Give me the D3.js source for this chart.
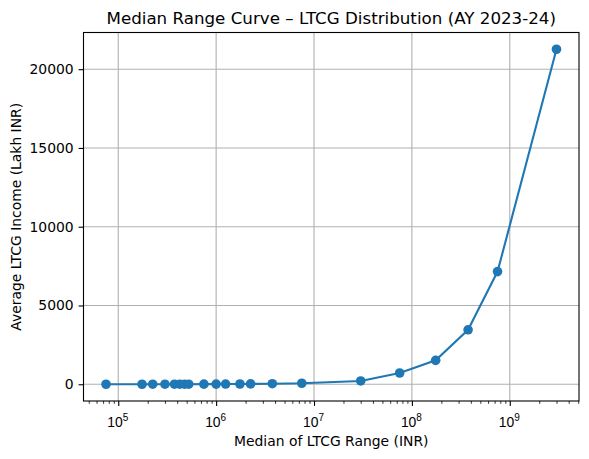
<!DOCTYPE html>
<html>
<head>
<meta charset="utf-8">
<script src="https://cdn.jsdelivr.net/npm/d3@7"></script>
<style>
  body { margin: 0; background: #fff; }
  svg { font-family: "DejaVu Sans", sans-serif; }
</style>
</head>
<body>
<div id="chart"></div>
<script>
// median of each LTCG range (INR)
var medians = [75000, 175000, 225000, 300000, 375000, 425000, 475000, 525000, 750000, 1000000,
  1250000, 1750000, 2250000, 3750000, 7500000, 30000000, 75000000, 175000000, 375000000,
  750000000, 3000000000];
// average LTCG income (lakh INR)
var avgIncome = [0.5, 1.6, 2.1, 2.9, 3.6, 4.1, 4.6, 5.1, 7.3, 9.6, 12.1, 17.2, 22, 36, 65,
  209, 715, 1519, 3456, 7152, 21266];
var xMajor = [1e5, 1e6, 1e7, 1e8, 1e9];
var yTicks = [0, 5000, 10000, 15000, 20000];

var W = 589, H = 459;
// note: "top" is a reserved window property, so use plotTop etc.
var plotLeft = 83.5, plotRight = 579, plotTop = 32.5, plotBottom = 401;
var blue = "#1f77b4";

var data = medians.map(function (m, i) { return { x: m, y: avgIncome[i] }; });

var svg = d3.select("#chart").append("svg").attr("width", W).attr("height", H);

// domains with 5% margins like matplotlib
var lx = d3.extent(medians, function (d) { return Math.log10(d); });
var pad = (lx[1] - lx[0]) * 0.05;
var x = d3.scaleLog()
  .domain([Math.pow(10, lx[0] - pad), Math.pow(10, lx[1] + pad)])
  .range([plotLeft, plotRight]);

var ey = d3.extent(avgIncome);
var padY = (ey[1] - ey[0]) * 0.05;
var y = d3.scaleLinear().domain([ey[0] - padY, ey[1] + padY]).range([plotBottom, plotTop]);

// grid
var grid = svg.append("g");
grid.selectAll("line.gx").data(xMajor).enter().append("line")
  .attr("x1", function (d) { return x(d); }).attr("x2", function (d) { return x(d); })
  .attr("y1", plotTop).attr("y2", plotBottom)
  .attr("stroke", "#b0b0b0").attr("stroke-width", 1.1);
grid.selectAll("line.gy").data(yTicks).enter().append("line")
  .attr("y1", function (d) { return y(d); }).attr("y2", function (d) { return y(d); })
  .attr("x1", plotLeft).attr("x2", plotRight)
  .attr("stroke", "#b0b0b0").attr("stroke-width", 1.1);

// line + markers
var line = d3.line().x(function (d) { return x(d.x); }).y(function (d) { return y(d.y); });
svg.append("path").datum(data).attr("d", line)
  .attr("fill", "none").attr("stroke", blue).attr("stroke-width", 2.08);
svg.selectAll("circle").data(data).enter().append("circle")
  .attr("cx", function (d) { return x(d.x); })
  .attr("cy", function (d) { return y(d.y); })
  .attr("r", 4.8).attr("fill", blue);

// spines
svg.append("rect").attr("x", plotLeft).attr("y", plotTop)
  .attr("width", plotRight - plotLeft).attr("height", plotBottom - plotTop)
  .attr("fill", "none").attr("stroke", "#000").attr("stroke-width", 1.1);

// minor x ticks
var minor = [];
var dom = x.domain();
for (var k = 4; k <= 10; k++) {
  for (var m = 2; m <= 9; m++) {
    var v = m * Math.pow(10, k);
    if (v >= dom[0] && v <= dom[1]) minor.push(v);
  }
}
var xMinorAxis = d3.axisBottom(x).tickValues(minor).tickSize(2.8).tickFormat("");
svg.append("g").attr("transform", "translate(0," + plotBottom + ")").call(xMinorAxis)
  .call(function (g) {
    g.select(".domain").remove();
    g.selectAll("line").attr("stroke", "#000").attr("stroke-width", 0.8);
  });

// major x ticks
var xAxis = d3.axisBottom(x).tickValues(xMajor).tickSize(4.9).tickPadding(4.9).tickFormat("");
var gx = svg.append("g").attr("transform", "translate(0," + plotBottom + ")").call(xAxis);
gx.select(".domain").remove();
gx.selectAll("line").attr("stroke", "#000").attr("stroke-width", 1.1);
gx.selectAll(".tick").each(function (d) {
  var t = d3.select(this).append("text")
    .attr("x", -1).attr("y", 26).attr("fill", "#000")
    .attr("font-size", "13.9px").attr("text-anchor", "middle");
  t.append("tspan").text("10");
  t.append("tspan").attr("font-size", "10px").attr("dy", -6)
    .text(Math.round(Math.log10(d)));
});

// y ticks
var yAxis = d3.axisLeft(y).tickValues(yTicks).tickSize(4.9).tickPadding(4.9)
  .tickFormat(d3.format("d"));
var gy = svg.append("g").attr("transform", "translate(" + plotLeft + ",0)").call(yAxis);
gy.select(".domain").remove();
gy.selectAll("line").attr("stroke", "#000").attr("stroke-width", 1.1);
gy.selectAll("text").attr("font-size", "13.9px").attr("fill", "#000")
  .attr("font-family", "DejaVu Sans, sans-serif");

// title and labels
svg.append("text").attr("x", (plotLeft + plotRight) / 2).attr("y", 24)
  .attr("text-anchor", "middle").attr("font-size", "16.7px").attr("fill", "#000")
  .text("Median Range Curve – LTCG Distribution (AY 2023-24)");
svg.append("text").attr("x", (plotLeft + plotRight) / 2).attr("y", 446)
  .attr("text-anchor", "middle").attr("font-size", "13.9px").attr("fill", "#000")
  .text("Median of LTCG Range (INR)");
svg.append("text")
  .attr("transform", "translate(21," + ((plotTop + plotBottom) / 2) + ") rotate(-90)")
  .attr("text-anchor", "middle").attr("font-size", "13.9px").attr("fill", "#000")
  .text("Average LTCG Income (Lakh INR)");
</script>
</body>
</html>
